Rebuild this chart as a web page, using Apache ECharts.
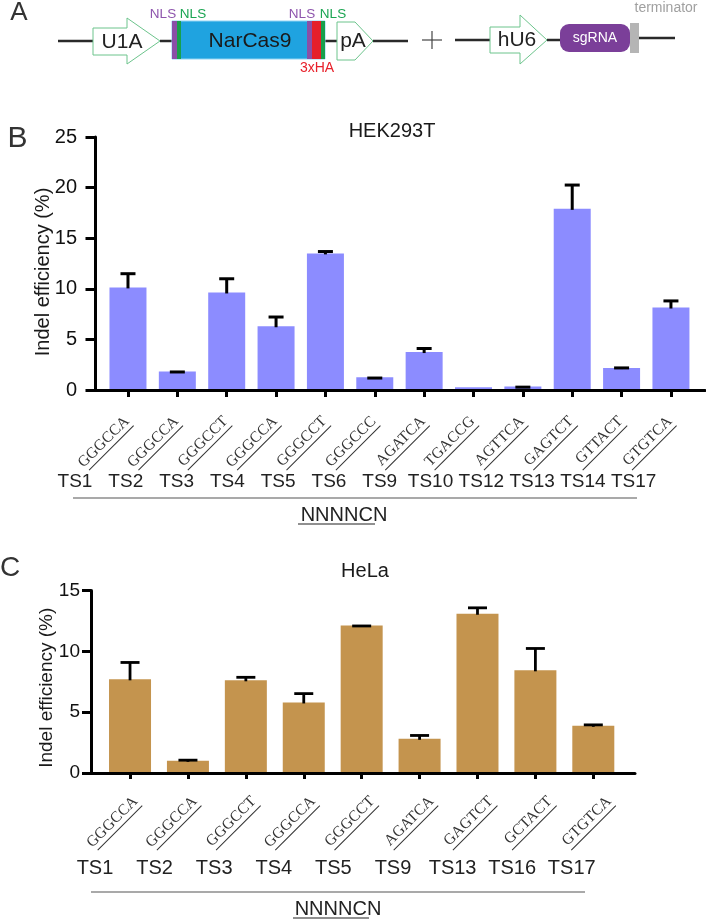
<!DOCTYPE html>
<html>
<head>
<meta charset="utf-8">
<script src="https://cdn.jsdelivr.net/npm/echarts@6/dist/echarts.min.js"></script>
<style>
html,body{margin:0;padding:0;background:#fff;}
#chart{width:706px;height:919px;}
</style>
</head>
<body>
<div id="chart"></div>
<script>
// ---- Data: panel B (HEK293T) ----
const tsB  = ['TS1','TS2','TS3','TS4','TS5','TS6','TS9','TS10','TS12','TS13','TS14','TS17'];
const seqB = ['GGGCCA','GGGCCA','GGGCCT','GGGCCA','GGGCCT','GGGCCC','AGATCA','TGACCG','AGTTCA','GAGTCT','GTTACT','GTGTCA'];
const valB = [10.14, 1.83, 9.64, 6.3, 13.5, 1.27, 3.75, 0.28, 0.35, 17.9, 2.17, 8.15];
const errB = [1.5, 0.1, 1.5, 1.06, 0.33, 0.06, 0.5, 0, 0.08, 2.5, 0.16, 0.8];
const yTicksB = [0, 5, 10, 15, 20, 25];

// ---- Data: panel C (HeLa) ----
const tsC  = ['TS1','TS2','TS3','TS4','TS5','TS9','TS13','TS16','TS17'];
const seqC = ['GGGCCA','GGGCCA','GGGCCT','GGGCCA','GGGCCT','AGATCA','GAGTCT','GCTACT','GTGTCA'];
const valC = [7.7, 1.0, 7.62, 5.8, 12.13, 2.81, 13.09, 8.44, 3.88];
const errC = [1.5, 0.17, 0.36, 0.84, 0.07, 0.39, 0.6, 1.91, 0.19];
const yTicksC = [0, 5, 10, 15];

const SANS = '"Liberation Sans", Arial, Helvetica, sans-serif';
const SERIF = '"Liberation Serif", "Times New Roman", serif';

const idxB = tsB.map((_, i) => i);
const idxC = tsC.map((_, i) => i);

function errRender(capW, lw) {
  return function (params, api) {
    const x = api.value(0), v = api.value(1), e = api.value(2);
    if (!(e > 0)) return;
    const p0 = api.coord([x, v]);
    const p1 = api.coord([x, v + e]);
    const yc = p1[1] + lw / 2;
    return {
      type: 'group',
      children: [
        { type: 'line', shape: { x1: p0[0], y1: p0[1] + 1, x2: p1[0], y2: yc }, style: { stroke: '#000', lineWidth: lw } },
        { type: 'line', shape: { x1: p1[0] - capW / 2, y1: yc, x2: p1[0] + capW / 2, y2: yc }, style: { stroke: '#000', lineWidth: lw } }
      ]
    };
  };
}

function seqLabel(arr, margin) {
  return {
    show: true, rotate: 45, margin: margin, color: '#333',
    fontSize: 15.5, fontFamily: SERIF,
    customValues: arr.map((_, i) => i),
    formatter: v => '{t|' + arr[v] + '}\n{u|}',
    rich: {
      t: { fontFamily: SERIF, fontSize: 15.5, color: '#333', lineHeight: 16 },
      u: { width: 63, height: 1, backgroundColor: '#333', lineHeight: 3 }
    }
  };
}

function T(text, x, y, size, color, extra) {
  const font = size + 'px ' + SANS;
  return Object.assign({
    type: 'text', x: x, y: y, z: 10,
    style: { text: text, font: font, fill: color, align: 'center', verticalAlign: 'middle', textAlign: 'center', textVerticalAlign: 'middle' }
  }, extra || {});
}
function L(x1, y1, x2, y2, color, w) {
  return { type: 'line', z: 5, shape: { x1, y1, x2, y2 }, style: { stroke: color, lineWidth: w } };
}
function R(x, y, w, h, fill, extra) {
  return { type: 'rect', z: 6, shape: Object.assign({ x, y, width: w, height: h }, extra || {}), style: { fill: fill } };
}
function P(points) {
  return { type: 'polygon', z: 6, shape: { points }, style: { fill: '#fff', stroke: '#6cc48c', lineWidth: 1 } };
}

const LINE = '#2a2a2a';
const graphics = [
  // panel letters
  T('A', 19, 13, 26, '#333'),
  T('B', 17.5, 139, 30, '#333'),
  T('C', 10, 568, 28, '#333'),
  // construct 1
  L(58, 41, 93, 41, LINE, 2.5),
  L(160, 41, 172, 41, LINE, 2.5),
  L(325, 41, 337, 41, LINE, 2.5),
  L(373, 41, 408, 41, LINE, 2.5),
  P([[93,28],[127,28],[127,18],[160,41],[127,64],[127,55],[93,55]]),
  T('U1A', 122, 42, 21, '#222'),
  { type: 'rect', z: 6, shape: { x: 172, y: 21, width: 153, height: 38 }, style: { fill: '#1fa3e0', stroke: '#8fd3f3', lineWidth: 1 } },
  R(172, 21, 5, 38, '#8a4fa6'),
  R(177, 21, 4, 38, '#18a04c'),
  R(307, 21, 5, 38, '#8a4fa6'),
  R(312, 21, 9, 38, '#e51f2b'),
  R(321, 21, 4, 38, '#18a04c'),
  T('NarCas9', 250, 41, 21, '#1a1a1a'),
  T('NLS', 163, 14, 13.5, '#8e55ad'),
  T('NLS', 193, 14, 13.5, '#1ba552'),
  T('NLS', 302, 14, 13.5, '#8e55ad'),
  T('NLS', 333, 14, 13.5, '#1ba552'),
  T('3xHA', 317, 68, 14, '#e8202a'),
  P([[337,22],[355,22],[373,41],[355,60],[337,60]]),
  T('pA', 353, 41, 21, '#222'),
  // plus
  L(422, 40, 442, 40, '#444', 1.2),
  L(432, 31, 432, 49, '#444', 1.2),
  // construct 2
  L(455, 40, 490, 40, LINE, 2.5),
  L(547, 40, 560, 40, LINE, 2.5),
  L(639, 38, 675, 38, LINE, 2.5),
  P([[490,27],[520,27],[520,15],[547,40],[520,64],[520,53],[490,53]]),
  T('hU6', 517, 40, 21, '#222'),
  R(560, 24, 70, 28, '#7b3f99', { r: 9 }),
  T('sgRNA', 595, 38, 14, '#fff'),
  R(630, 23, 9, 30, '#b5b5b5'),
  T('terminator', 666, 8, 14, '#a0a0a0'),
  // panel B bottom annotation
  L(73, 498, 637, 498, '#555', 1.2),
  T('NNNNCN', 344, 515, 20, '#222'),
  L(298, 524, 375, 524, '#222', 1.2),
  // panel C bottom annotation
  L(91, 892, 585, 892, '#555', 1.2),
  T('NNNNCN', 338, 909, 20, '#222'),
  L(293, 918, 369, 918, '#222', 1.2)
];

const axisBlack = { show: true, onZero: false, lineStyle: { color: '#000', width: 3 } };
const noLine = { show: false, onZero: false };

const option = {
  animation: false,
  backgroundColor: '#fff',
  title: [
    { text: 'HEK293T', left: 392, top: 121, padding: 0, textAlign: 'center', textStyle: { fontSize: 20, fontWeight: 'normal', color: '#1a1a1a', fontFamily: SANS } },
    { text: 'HeLa', left: 365, top: 561, padding: 0, textAlign: 'center', textStyle: { fontSize: 20, fontWeight: 'normal', color: '#1a1a1a', fontFamily: SANS } }
  ],
  grid: [
    { left: 95.5, top: 137, width: 609.5, height: 253 },
    { left: 91, top: 590.5, width: 544, height: 182.5 }
  ],
  xAxis: [
    // B main axis: line, ticks, sequence labels
    { gridIndex: 0, type: 'value', min: -0.658, max: 11.69, z: 3,
      axisLine: axisBlack,
      axisTick: { show: true, length: 7, customValues: idxB, lineStyle: { color: '#000', width: 3 } },
      axisLabel: seqLabel(seqB, 30),
      splitLine: { show: false } },
    // B target-site labels
    { gridIndex: 0, type: 'value', min: -0.581, max: 11.42, position: 'bottom',
      axisLine: noLine, axisTick: { show: false }, splitLine: { show: false },
      axisLabel: { show: true, customValues: idxB, formatter: v => tsB[v], margin: 82, fontSize: 19, color: '#222', fontFamily: SANS, padding: [0, 100, 0, 0] } },
    // C main axis
    { gridIndex: 1, type: 'value', min: -0.674, max: 8.72, z: 3,
      axisLine: axisBlack,
      axisTick: { show: true, length: 6, customValues: idxC, lineStyle: { color: '#000', width: 3 } },
      axisLabel: { show: false },
      splitLine: { show: false } },
    // C sequence labels
    { gridIndex: 1, type: 'value', min: -0.770, max: 8.419, position: 'bottom',
      axisLine: noLine, axisTick: { show: false }, splitLine: { show: false },
      axisLabel: seqLabel(seqC, 27) },
    // C target-site labels
    { gridIndex: 1, type: 'value', min: -0.906, max: 8.222, position: 'bottom',
      axisLine: noLine, axisTick: { show: false }, splitLine: { show: false },
      axisLabel: { show: true, customValues: idxC, formatter: v => tsC[v], margin: 85, fontSize: 20, color: '#222', fontFamily: SANS, padding: [0, 100, 0, 0] } }
  ],
  yAxis: [
    { gridIndex: 0, type: 'value', min: yTicksB[0], max: yTicksB[yTicksB.length - 1], interval: yTicksB[1] - yTicksB[0],
      axisLine: axisBlack,
      axisTick: { show: true, length: 10, lineStyle: { color: '#000', width: 3 } },
      axisLabel: { fontSize: 20, color: '#111', margin: 18.5, fontFamily: SANS },
      splitLine: { show: false },
      name: 'Indel efficiency (%)', nameLocation: 'middle', nameGap: 42, nameRotate: 90, nameMoveOverlap: false,
      nameTextStyle: { fontSize: 20, color: '#1a1a1a', fontFamily: SANS, padding: [0, 17, 0, 0] } },
    { gridIndex: 1, type: 'value', min: yTicksC[0], max: yTicksC[yTicksC.length - 1], interval: yTicksC[1] - yTicksC[0],
      axisLine: axisBlack,
      axisTick: { show: true, length: 9, lineStyle: { color: '#000', width: 3 } },
      axisLabel: { fontSize: 19, color: '#111', margin: 11, fontFamily: SANS },
      splitLine: { show: false },
      name: 'Indel efficiency (%)', nameLocation: 'middle', nameGap: 35, nameRotate: 90, nameMoveOverlap: false,
      nameTextStyle: { fontSize: 19, color: '#1a1a1a', fontFamily: SANS, padding: [0, 12, 0, 0] } }
  ],
  series: [
    { type: 'bar', xAxisIndex: 0, yAxisIndex: 0, barWidth: 37,
      itemStyle: { color: '#8c8cff' },
      data: valB.map((v, i) => [i, v]) },
    { type: 'custom', xAxisIndex: 0, yAxisIndex: 0, z: 5,
      renderItem: errRender(15, 3),
      data: valB.map((v, i) => [i, v, errB[i]]) },
    { type: 'bar', xAxisIndex: 2, yAxisIndex: 1, barWidth: 42,
      itemStyle: { color: '#c4944e' },
      data: valC.map((v, i) => [i, v]) },
    { type: 'custom', xAxisIndex: 2, yAxisIndex: 1, z: 5,
      renderItem: errRender(19, 2.8),
      data: valC.map((v, i) => [i, v, errC[i]]) }
  ],
  graphic: graphics
};

const chart = echarts.init(document.getElementById('chart'), null, { renderer: 'canvas' });
chart.setOption(option);
</script>
</body>
</html>
